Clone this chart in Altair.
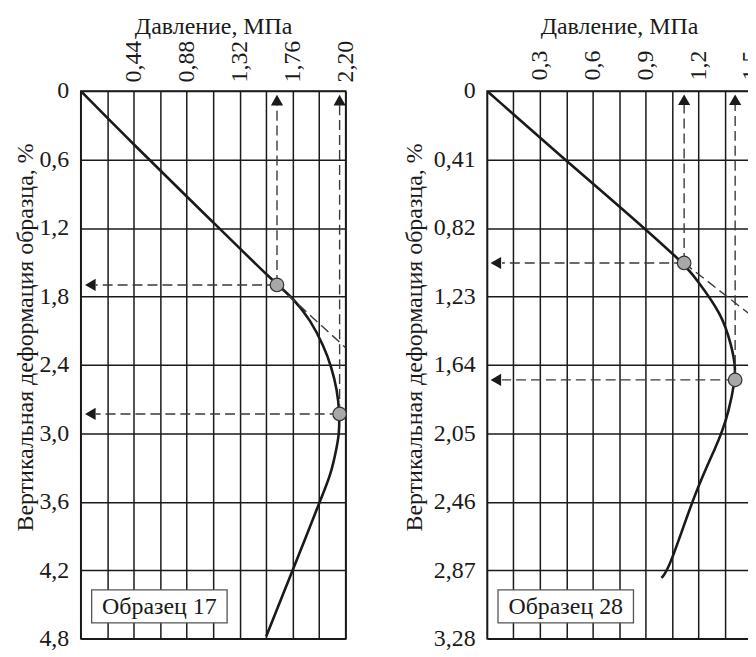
import altair as alt
import pandas as pd

FONT = "Liberation Serif"
INK = "#1a1a1a"
FS = 24

# ---------------- Sample 17 ----------------
p17 = [0, 0.44, 1.07, 1.63, 1.76, 1.91, 2.02, 2.08, 2.13, 2.15, 2.145, 2.13, 2.08, 1.98, 1.87, 1.76, 1.54]
d17 = [0, 0.47, 1.12, 1.70, 1.81, 2.01, 2.24, 2.41, 2.62, 2.83, 3.01, 3.10, 3.36, 3.61, 3.91, 4.20, 4.78]
kp17_p = [1.63, 2.15]
kp17_d = [1.70, 2.83]
tan17_p = [1.63, 2.20]
tan17_d = [1.70, 2.25]
x17_ticks = [0, 0.22, 0.44, 0.66, 0.88, 1.10, 1.32, 1.54, 1.76, 1.98, 2.20]
y17_ticks = [0, 0.6, 1.2, 1.8, 2.4, 3.0, 3.6, 4.2, 4.8]

# ---------------- Sample 28 ----------------
p28 = [0, 0.45, 0.75, 1.118, 1.184, 1.335, 1.391, 1.41, 1.41, 1.372, 1.335, 1.306, 1.184, 1.034, 0.991]
d28 = [0, 0.418, 0.688, 1.031, 1.119, 1.335, 1.532, 1.64, 1.733, 1.925, 2.04, 2.12, 2.395, 2.866, 2.916]
kp28_p = [1.12, 1.41]
kp28_d = [1.03, 1.73]
tan28_p = [1.12, 1.50]
tan28_d = [1.03, 1.343]
x28_ticks = [0, 0.15, 0.3, 0.45, 0.6, 0.75, 0.9, 1.05, 1.2, 1.35, 1.5]
y28_ticks = [0, 0.41, 0.82, 1.23, 1.64, 2.05, 2.46, 2.87, 3.28]

X_TITLE = "Давление, МПа"
Y_TITLE = "Вертикальная деформация образца, %"

H = 550


def panel(label, p, d, kp_p, kp_d, tan_p, tan_d, xt, yt, xstep, xfmt, yfmt,
          arrow_up_y, dash_up_y, arrow_left_x, dash_left_x, ytitle_x, xlabpad, W):
    xdom = [xt[0], xt[-1]]
    ydom = [yt[0], yt[-1]]
    xs = alt.Scale(domain=xdom, nice=False, zero=False)
    ys = alt.Scale(domain=ydom, reverse=True, nice=False, zero=False)

    xaxis = alt.Axis(
        orient="top", values=xt, title=X_TITLE,
        labelExpr=f"datum.value > 0 && (round(datum.value / {xstep}) % 2 == 0) ? replace(format(datum.value, '{xfmt}'), '.', ',') : ''",
        labelAngle=-90, labelPadding=xlabpad, ticks=False, domain=False,
        grid=True, gridColor=INK, gridWidth=1.5, gridOpacity=1,
        labelFont=FONT, labelFontSize=FS, labelColor=INK,
        titleFont=FONT, titleFontSize=FS, titleFontWeight="normal", titleColor=INK,
        titleY=-58, titleBaseline="alphabetic",
    )
    yaxis = alt.Axis(
        orient="left", values=yt, title=Y_TITLE,
        labelExpr=f"datum.value == 0 ? '0' : replace(format(datum.value, '{yfmt}'), '.', ',')",
        labelPadding=12, ticks=False, domain=False,
        grid=True, gridColor=INK, gridWidth=1.5, gridOpacity=1,
        labelFont=FONT, labelFontSize=FS, labelColor=INK,
        titleFont=FONT, titleFontSize=FS, titleFontWeight="normal", titleColor=INK,
        titleX=ytitle_x, titleY=247,
    )

    def X(f):
        return alt.X(f, scale=xs, axis=xaxis, title=X_TITLE)

    def Y(f):
        return alt.Y(f, scale=ys, axis=yaxis, title=Y_TITLE)

    curve_df = pd.DataFrame({"p": p, "d": d, "i": list(range(len(p)))})
    curve = alt.Chart(curve_df).mark_line(
        color=INK, strokeWidth=2.6, interpolate="basis", clip=True
    ).encode(x=X("p:Q"), y=Y("d:Q"), order="i:O")

    dash_df = pd.DataFrame({
        "p": [kp_p[0], kp_p[1], kp_p[0], kp_p[1], tan_p[0]],
        "d": [kp_d[0], kp_d[1], kp_d[0], kp_d[1], tan_d[0]],
        "p2": [kp_p[0], kp_p[1], dash_left_x, dash_left_x, tan_p[1]],
        "d2": [dash_up_y, dash_up_y, kp_d[0], kp_d[1], tan_d[1]],
    })
    dashes = alt.Chart(dash_df).mark_rule(
        color="#3a3a3a", strokeWidth=1.4, strokeDash=[10, 5], clip=True
    ).encode(x=X("p:Q"), y=Y("d:Q"), x2="p2:Q", y2="d2:Q")

    up_df = pd.DataFrame({"p": kp_p, "d": [arrow_up_y, arrow_up_y]})
    ups = alt.Chart(up_df).mark_point(
        shape="triangle-up", filled=True, size=150, color=INK, opacity=1
    ).encode(x=X("p:Q"), y=Y("d:Q"))

    left_df = pd.DataFrame({"p": [arrow_left_x, arrow_left_x], "d": kp_d})
    lefts = alt.Chart(left_df).mark_point(
        shape="triangle-left", filled=True, size=150, color=INK, opacity=1
    ).encode(x=X("p:Q"), y=Y("d:Q"))

    kp_df = pd.DataFrame({"p": kp_p, "d": kp_d})
    pts = alt.Chart(kp_df).mark_point(
        shape="circle", filled=True, size=185, fill="#a8a8a8",
        stroke="#333333", strokeWidth=1.2, opacity=1
    ).encode(x=X("p:Q"), y=Y("d:Q"))

    lab_df = pd.DataFrame({"label": [label]})
    box = alt.Chart(lab_df).mark_rect(
        fill="white", stroke="#555555", strokeWidth=1.3
    ).encode(
        x=alt.value(11), x2=alt.value(147), y=alt.value(H - 49), y2=alt.value(H - 16)
    )
    txt = alt.Chart(lab_df).mark_text(
        font=FONT, fontSize=FS, color=INK, baseline="middle", align="center"
    ).encode(
        x=alt.value(79), y=alt.value(H - 32), text="label:N"
    )

    return alt.layer(curve, dashes, pts, ups, lefts, box, txt).properties(
        width=W, height=H
    )


left = panel("Образец 17", p17, d17, kp17_p, kp17_d, tan17_p, tan17_d,
             x17_ticks, y17_ticks, 0.22, ".2f", ".1f",
             0.08, 0.12, 0.08, 0.125, -43, 9, 266)
right = panel("Образец 28", p28, d28, kp28_p, kp28_d, tan28_p, tan28_d,
              x28_ticks, y28_ticks, 0.15, ".1f", ".2f",
              0.053, 0.083, 0.05, 0.085, -61, 11, 265)

chart = alt.hconcat(left, right, spacing=43).properties(
    padding={"left": 5, "top": 4, "right": -16, "bottom": -1}
).configure_view(stroke=INK, strokeWidth=1.5)

chart.save("out.html", embed_options={"renderer": "svg", "actions": False})
